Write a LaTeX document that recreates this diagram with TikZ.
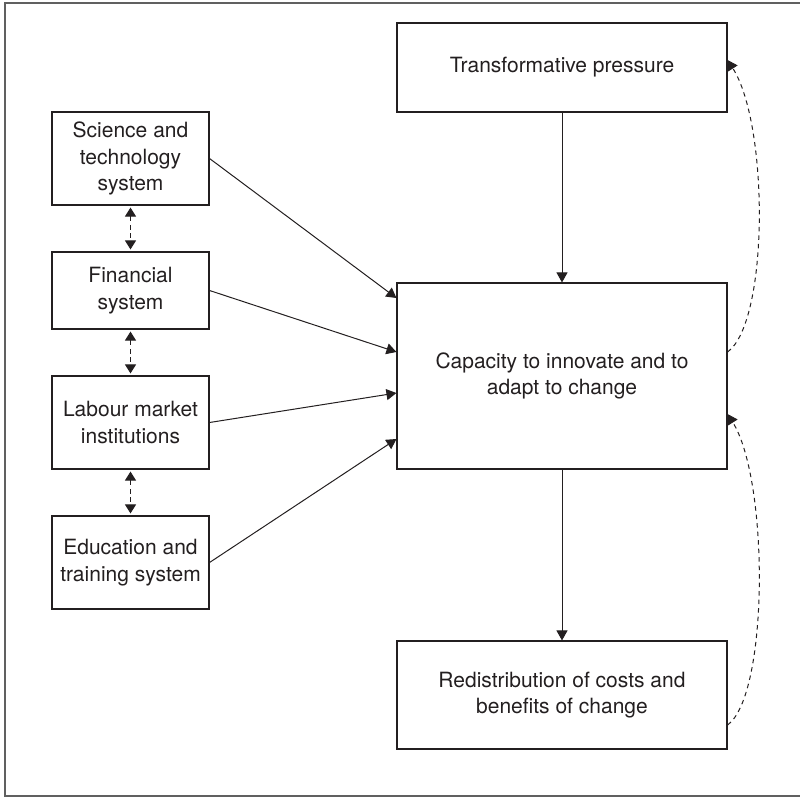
\documentclass[tikz,border=0pt]{standalone}
\usepackage{fontspec}
\setmainfont{TeX Gyre Heros}
\usetikzlibrary{arrows.meta}
\definecolor{ink}{HTML}{231F20}
\definecolor{framec}{HTML}{606060}
\begin{document}
\begin{tikzpicture}[x=1pt,y=-1pt,
  box/.style={draw=ink, line width=1.1pt, inner sep=0pt, align=center, text=ink,
    font=\fontsize{21}{26.5}\selectfont},
  leftbox/.style={box, minimum width=157pt},
  rightbox/.style={box, minimum width=330pt},
  tip/.style={},
  solidarrow/.style={draw=ink, line width=1pt, -{Triangle[length=10pt,width=11pt]}},
  dashdouble/.style={draw=ink, line width=1pt, dash pattern=on 5pt off 3.5pt,
    shorten <=2pt, shorten >=2pt,
    {Triangle[length=9pt,width=11pt]}-{Triangle[length=9pt,width=11pt]}},
  dashfeed/.style={draw=ink, line width=1pt, dash pattern=on 4.5pt off 4pt,
    -{Triangle[length=10pt,width=11pt]}}
]
\useasboundingbox (0,0) rectangle (800,797);
% frame (right edge lies outside the picture)
\draw[framec, line width=1.5pt] (801,3) -- (5,3) -- (5,796) -- (801,796);

% left column
\node[leftbox, minimum height=93pt] (sci) at (130.5,158.5) {Science and\\technology\\system};
\node[leftbox, minimum height=77pt] (fin) at (130.5,290.5) {Financial\\system};
\node[leftbox, minimum height=93pt] (lab) at (130.5,422.5) {Labour market\\institutions};
\node[leftbox, minimum height=93pt] (edu) at (130.5,562.5) {Education and\\training system};

% right column
\node[rightbox, minimum height=89pt] (tp) at (562,67.5) {Transformative pressure};
\node[rightbox, minimum height=186pt] (cap) at (562,376) {Capacity to innovate and to\\adapt to change};
\node[rightbox, minimum height=108pt] (red) at (562,695) {Redistribution of costs and\\benefits of change};

% dashed links between left boxes
\draw[dashdouble] (sci.south) -- (fin.north);
\draw[dashdouble] (fin.south) -- (lab.north);
\draw[dashdouble] (lab.south) -- (edu.north);

% left boxes into capacity
\draw[solidarrow] (sci.east) -- ([yshift=78pt]cap.west);
\draw[solidarrow] (fin.east) -- ([yshift=24pt]cap.west);
\draw[solidarrow] (lab.east) -- ([yshift=-17pt]cap.west);
\draw[solidarrow] (edu.east) -- ([yshift=-63pt]cap.west);

% vertical flow
\draw[solidarrow] (tp.south) -- (cap.north);
\draw[solidarrow] (cap.south) -- (red.north);

% feedback loops
\coordinate (capout) at ([yshift=24pt]cap.east);
\coordinate (tpin) at ([yshift=7.5pt]tp.east);
\coordinate (redout) at ([yshift=-30pt]red.east);
\coordinate (capin) at ([yshift=-38pt]cap.east);
\draw[dashfeed] (capout) .. controls (769,322) and (769,125) .. (tpin);
\draw[dashfeed] (redout) .. controls (769,695) and (769,480) .. (capin);
\end{tikzpicture}
\end{document}
